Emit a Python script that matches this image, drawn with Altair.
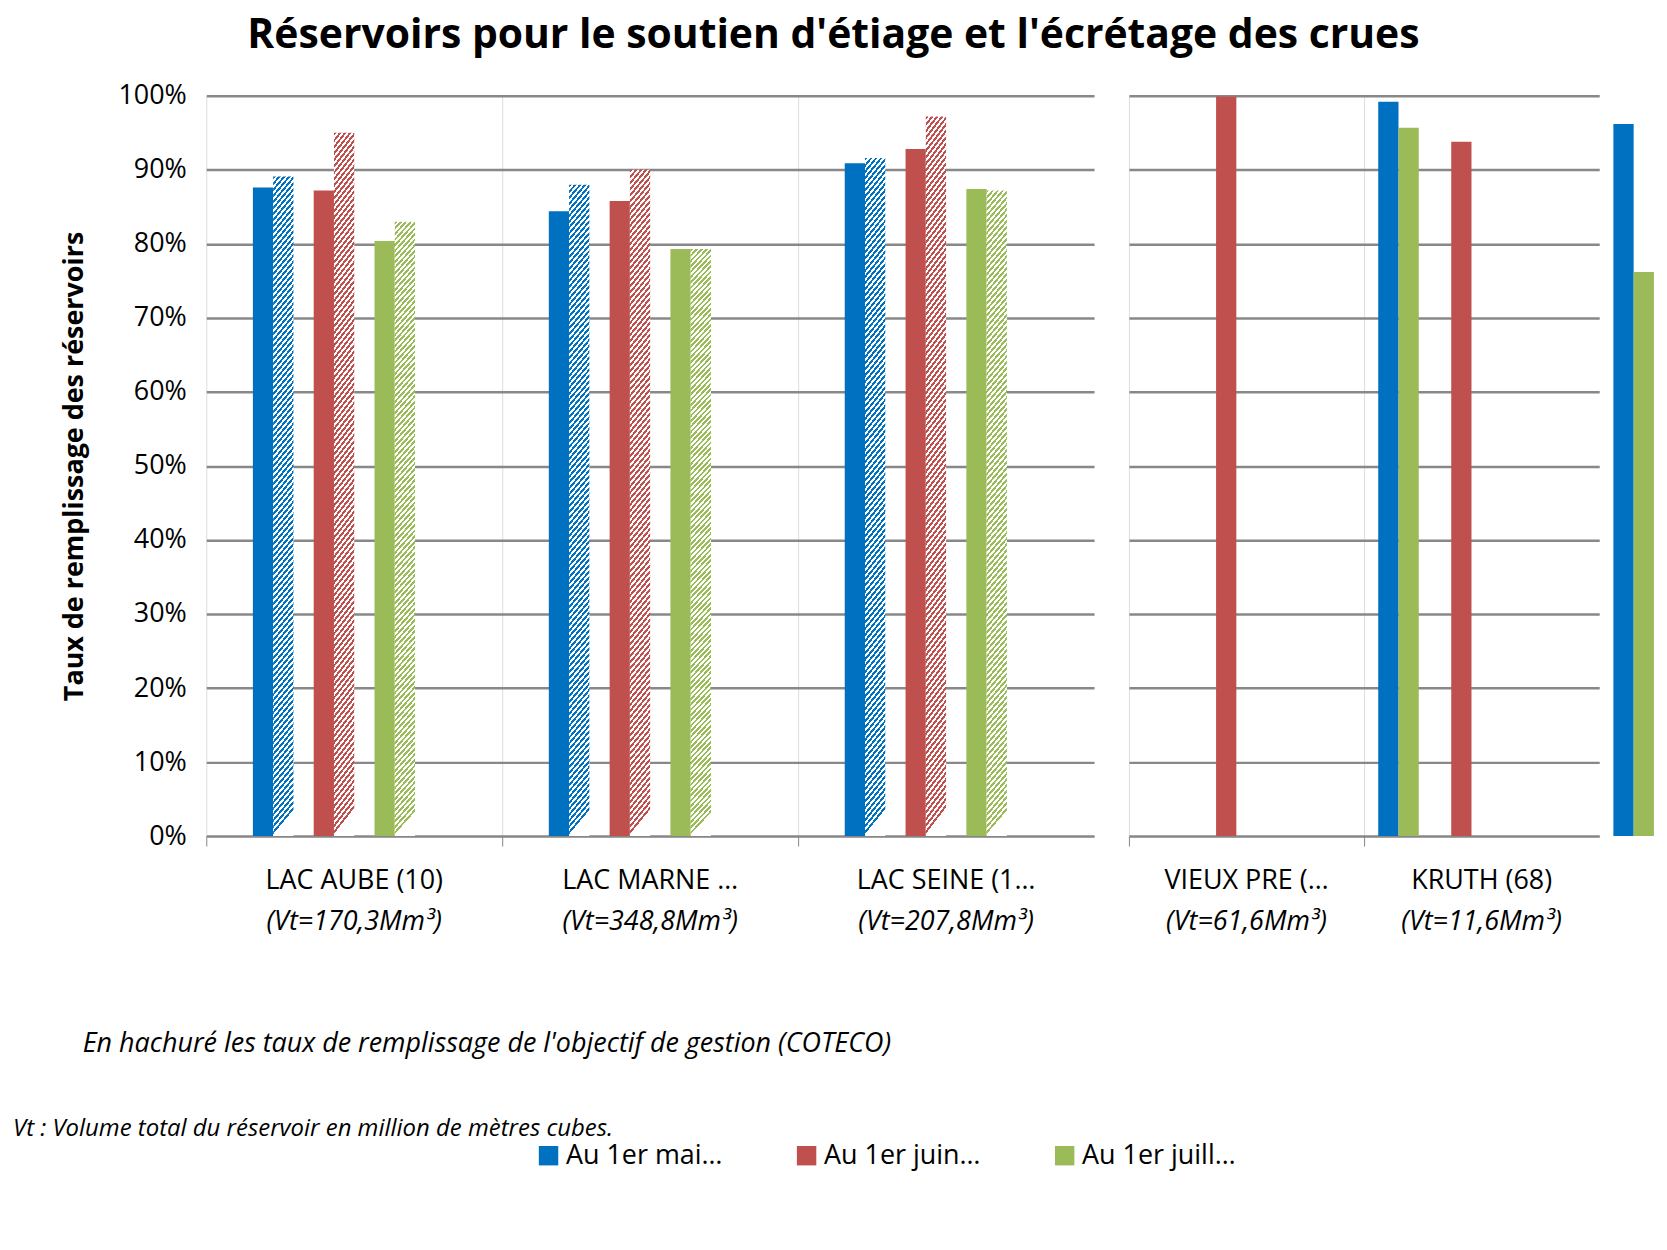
import altair as alt
import pandas as pd

series = ["Au 1er mai 2026", "Au 1er juin 2026", "Au 1er juillet 2026"]
colors = ["#0070C0", "#C0504D", "#9BBB59"]

lakes_left = ["LAC AUBE (10)", "LAC MARNE (51)", "LAC SEINE (10)"]
vt_left = ["(Vt=170,3Mm³)", "(Vt=348,8Mm³)", "(Vt=207,8Mm³)"]
mai_left = [0.876, 0.844, 0.909]
mai_obj = [0.891, 0.880, 0.916]
juin_left = [0.872, 0.858, 0.928]
juin_obj = [0.950, 0.900, 0.972]
juil_left = [0.804, 0.793, 0.874]
juil_obj = [0.830, 0.793, 0.872]

lakes_right = ["VIEUX PRE (88)", "KRUTH (68)"]
vt_right = ["(Vt=61,6Mm³)", "(Vt=11,6Mm³)"]
mai_right = [0.992, 0.962]
juin_right = [0.999, 0.938]
juil_right = [0.957, 0.762]

S = 1.07
LW, RW, H = int(833 * S), int(442 * S), int(695 * S)
FS = 27

rows = []
for i, l in enumerate(lakes_left):
    for s, vals, obj, k in [(series[0], mai_left, mai_obj, "a"), (series[1], juin_left, juin_obj, "c"), (series[2], juil_left, juil_obj, "e")]:
        rows.append(dict(lake=l, slot=k + "1", series=s, v=vals[i], hatch=False))
        rows.append(dict(lake=l, slot=k + "2", series=s, v=obj[i], hatch=True))
dl = pd.DataFrame(rows)
rows = []
for i, l in enumerate(lakes_right):
    for s, vals, k in [(series[0], mai_right, "a"), (series[1], juin_right, "b"), (series[2], juil_right, "c")]:
        rows.append(dict(lake=l, slot=k, series=s, v=vals[i]))
dr = pd.DataFrame(rows)


def grad(c, n=110):
    stops = []
    for i in range(n):
        p = i / n
        q = (i + 0.5) / n
        r = (i + 1) / n
        stops += [{"offset": p, "color": c}, {"offset": q, "color": c},
                  {"offset": q, "color": "white"}, {"offset": r, "color": "white"}]
    return {"gradient": "linear", "x1": 0, "y1": 0, "x2": 0.037, "y2": 1, "stops": stops}


yscale = alt.Scale(domain=[0, 1])
color = alt.Color("series:N", scale=alt.Scale(domain=series, range=colors),
                  legend=alt.Legend(title=None, orient="none", legendX=330, legendY=1050,
                                    direction="horizontal", labelFontSize=FS, symbolType="square",
                                    symbolSize=380, columnPadding=70, labelFont="Open Sans",
                                    symbolStrokeWidth=0))

xl = alt.X("lake:N", sort=lakes_left, title=None,
           scale=alt.Scale(paddingInner=0, paddingOuter=0),
           axis=alt.Axis(labelFontSize=FS, labelPadding=22, tickSize=10, bandPosition=0,
                         domainColor="#888", tickColor="#888", labelColor="black",
                         labelFont="Open Sans", labelAngle=0))
yl = alt.Y("v:Q", scale=yscale, title="Taux de remplissage des réservoirs",
           axis=alt.Axis(format=".0%", tickCount=10, labelFontSize=FS, titleFontSize=FS,
                         titleFontWeight="bold", titleFont="Open Sans", labelFont="Open Sans",
                         gridColor="#888", gridWidth=2.5, domain=False, ticks=False,
                         labelPadding=20, titlePadding=30, labelColor="black"))
xoffl = alt.XOffset("slot:N", scale=alt.Scale(
    domain=["p1", "p2", "a1", "a2", "b", "c1", "c2", "d", "e1", "e2", "p3", "p4"],
    paddingInner=0, paddingOuter=0.3))

base_l = alt.Chart(dl).encode(x=xl, y=yl, xOffset=xoffl)
solid_l = base_l.transform_filter("!datum.hatch").mark_bar(width={"band": 1}).encode(color=color)
hatch_layers = [
    base_l.transform_filter(f"datum.hatch && datum.series == '{s}'").mark_bar(
        width={"band": 1}, fill=grad(c))
    for s, c in zip(series, colors)
]
sub_l = alt.Chart(pd.DataFrame({"lake": lakes_left, "vt": vt_left})).mark_text(
    fontSize=FS, fontStyle="italic", font="Open Sans").encode(
    x=alt.X("lake:N", sort=lakes_left), y=alt.value(H + 86), text="vt:N")
notes = alt.Chart(pd.DataFrame({"t": ["En hachuré les taux de remplissage de l'objectif de gestion (COTECO)"]})).mark_text(
    fontSize=FS, fontStyle="italic", font="Open Sans", align="left").encode(
    x=alt.value(-124), y=alt.value(952), text="t:N")
notes2 = alt.Chart(pd.DataFrame({"t": ["Vt : Volume total du réservoir en million de mètres cubes."]})).mark_text(
    fontSize=24, fontStyle="italic", font="Open Sans", align="left").encode(
    x=alt.value(-194), y=alt.value(1037), text="t:N")
left = alt.layer(solid_l, *hatch_layers, sub_l, notes, notes2).properties(width=LW, height=H)

xr = alt.X("lake:N", sort=lakes_right, title=None,
           scale=alt.Scale(paddingInner=0, paddingOuter=0),
           axis=alt.Axis(labelFontSize=FS, labelPadding=22, tickSize=10, bandPosition=0,
                         domainColor="#888", tickColor="#888", labelColor="black",
                         labelFont="Open Sans", labelAngle=0))
yr = alt.Y("v:Q", scale=yscale, title=None,
           axis=alt.Axis(tickCount=10, labels=False, gridColor="#888", gridWidth=2.5,
                         domain=False, ticks=False))
solid_r = alt.Chart(dr).mark_bar(width={"band": 1}).encode(
    x=xr, y=yr, color=color,
    xOffset=alt.XOffset("slot:N", scale=alt.Scale(domain=["a", "b", "c"], paddingInner=0.41, paddingOuter=0.87)))
sub_r = alt.Chart(pd.DataFrame({"lake": lakes_right, "vt": vt_right})).mark_text(
    fontSize=FS, fontStyle="italic", font="Open Sans").encode(
    x=alt.X("lake:N", sort=lakes_right), y=alt.value(H + 86), text="vt:N")
right = alt.layer(solid_r, sub_r).properties(width=RW, height=H)

chart = alt.hconcat(left, right, spacing=34).properties(
    title=alt.TitleParams("Réservoirs pour le soutien d'étiage et l'écrétage des crues",
                          fontSize=41, font="Open Sans", fontWeight="bold", anchor="middle",
                          offset=25)
).configure_view(stroke=None).configure_axis(grid=True)

chart.save("out.html", embed_options={"renderer": "svg", "actions": False})
